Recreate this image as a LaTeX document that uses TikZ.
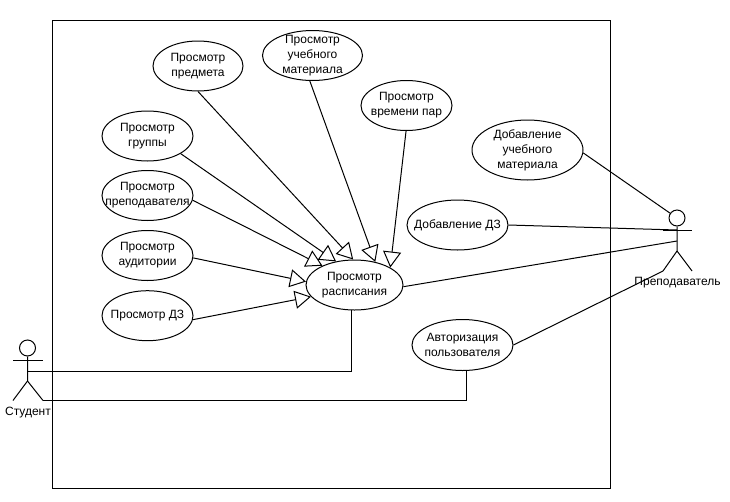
\documentclass[tikz,border=0pt]{standalone}
\usepackage{fontspec}
\setmainfont{Liberation Sans}
\usetikzlibrary{arrows.meta,shapes.geometric}
\tikzset{
	usecase/.style={draw,ellipse,inner sep=-16pt,align=center,font=\fontsize{12}{15}\selectfont},
	actorlabel/.style={font=\fontsize{12}{14}\selectfont},
	actorhead/.style={draw,circle,minimum size=16pt,inner sep=0pt},
	extends/.style={-{Triangle[open,length=16pt,width=18pt]}},
}
\begin{document}
\begin{tikzpicture}[x=1pt,y=-1pt,line width=1pt]
	\useasboundingbox (0,0) rectangle (730,501);
	\node[draw,minimum width=558pt,minimum height=468pt,inner sep=0pt] (sysbox) at (331,254) {};
	% usecases
	\node[usecase,minimum width=90pt,minimum height=50pt] (predmet) at (198,66) {Просмотр\\предмета};
	\node[usecase,minimum width=100pt,minimum height=50pt] (material) at (312.5,55.5) {Просмотр\\учебного\\материала};
	\node[usecase,minimum width=91pt,minimum height=50pt] (vremya) at (406.5,105.5) {Просмотр\\времени пар};
	\node[usecase,minimum width=91pt,minimum height=50pt] (gruppa) at (147.5,136) {Просмотр\\группы};
	\node[usecase,minimum width=91pt,minimum height=50pt] (prepod) at (147.5,195.5) {Просмотр\\преподавателя};
	\node[usecase,minimum width=91pt,minimum height=50pt] (audit) at (147.5,255.5) {Просмотр\\аудитории};
	\node[usecase,minimum width=91pt,minimum height=50pt] (dzview) at (147.5,315.7) {Просмотр ДЗ};
	\node[usecase,minimum width=97pt,minimum height=50pt] (raspis) at (354.5,285) {Просмотр\\расписания};
	\node[usecase,minimum width=111pt,minimum height=60pt] (addmat) at (527.5,150) {Добавление\\учебного\\материала};
	\node[usecase,minimum width=101pt,minimum height=50pt] (adddz) at (457.5,225) {Добавление ДЗ};
	\node[usecase,minimum width=101pt,minimum height=51pt] (auth) at (462.5,345) {Авторизация\\пользователя};
	% student
	\node[actorhead] (studhead) at (27.5,348) {};
	\coordinate (studhip) at (27.5,381);
	\coordinate (studmid) at (27.5,371);
	\coordinate (studlegl) at (13,400.5);
	\coordinate (studlegr) at (43,400.5);
	\node[actorlabel] (studlabel) at (28,413) {Студент};
	\draw (studhead) -- (studhip) -- (studlegl);
	\draw (studhip) -- (studlegr);
	\draw (13,360) -- (43,360);
	% teacher
	\node[actorhead] (teachhead) at (677,218) {};
	\coordinate (teachhip) at (677,251);
	\coordinate (teacharm) at (677,230);
	\coordinate (teachmid) at (677,241);
	\coordinate (teachlegl) at (663,271);
	\coordinate (teachlegr) at (692,271);
	\node[actorlabel] (teachlabel) at (677.5,283) {Преподаватель};
	\draw (teachhead) -- (teachhip) -- (teachlegl);
	\draw (teachhip) -- (teachlegr);
	\draw (663,230) -- (692,230);
	% generalization
	\draw[extends] (predmet.-90) -- (raspis.93);
	\draw[extends] (material.-96) -- (raspis.48);
	\draw[extends] (vremya.-91) -- (raspis.26);
	\draw[extends] (gruppa.-28) -- (raspis.128);
	\draw[extends] (prepod.-6) -- (raspis.149);
	\draw[extends] (audit.-3) -- (raspis.176);
	\draw[extends] (dzview.-5) -- (raspis.195);
	% associations
	\draw (studmid) -| (raspis.-96);
	\draw (studlegr) -| (auth.-81);
	\draw (raspis.-2) -- (teachmid);
	\draw (addmat.-3) -- (teachhead);
	\draw (adddz.0) -- (teacharm);
	\draw (auth.0) -- (teachlegl);
\end{tikzpicture}
\end{document}
